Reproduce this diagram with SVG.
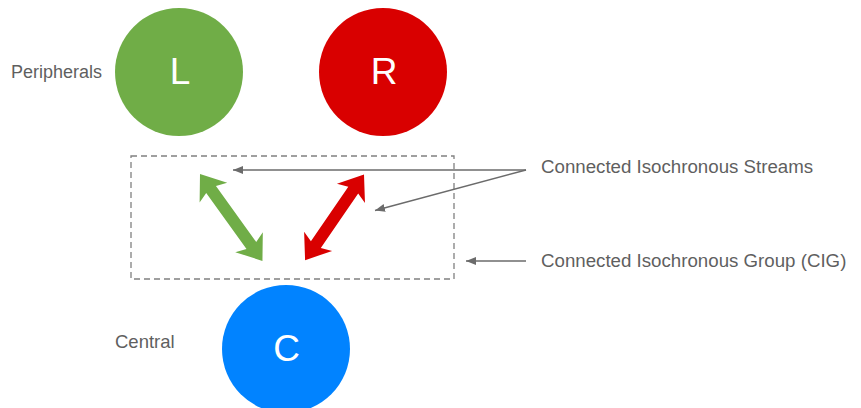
<svg xmlns="http://www.w3.org/2000/svg" width="861" height="408" viewBox="0 0 861 408">
<style>
.lbl{font-family:"Liberation Sans",Arial,sans-serif;fill:#5f5f5f;}
.big{font-family:"Liberation Sans",Arial,sans-serif;fill:#ffffff;font-size:37px;text-anchor:middle;}
.lead{stroke:#6b6b6b;stroke-width:1.5;fill:none;}
</style>
<defs>
<marker id="ah" markerUnits="userSpaceOnUse" markerWidth="11" markerHeight="9" refX="10" refY="4" orient="auto">
<path d="M0,0 L10,4 L0,8 Z" fill="#6b6b6b"/>
</marker>
</defs>
<rect x="131" y="156" width="323" height="123" fill="none" stroke="#808080" stroke-width="1.3" stroke-dasharray="6,4"/>
<g id="L"><circle cx="179" cy="72" r="64" fill="#70AD47"/><text class="big" x="180" y="84">L</text></g>
<g id="R"><circle cx="383" cy="72" r="64" fill="#D90000"/><text class="big" x="384" y="84">R</text></g>
<g id="C"><circle cx="286" cy="349" r="64" fill="#0183FF"/><text class="big" x="286.5" y="361">C</text></g>
<g id="labels">
<text class="lbl" x="11" y="78" font-size="18">Peripherals</text>
<text class="lbl" x="115" y="348" font-size="18.5">Central</text>
<text class="lbl" x="541" y="173" font-size="18.7">Connected Isochronous Streams</text>
<text class="lbl" x="541" y="267" font-size="18.7">Connected Isochronous Group (CIG)</text>
</g>
<g id="connectors">
<path fill="#70AD47" transform="translate(200,174) rotate(54.3)" d="M0,0 L23,-17 L19,-6 L88,-6 L84,-17 L107,0 L84,17 L88,6 L19,6 L23,17 Z"/>
<path fill="#D90000" transform="translate(364,174.5) rotate(124.5)" d="M0,0 L23,-17 L19,-6 L85,-6 L81,-17 L104,0 L81,17 L85,6 L19,6 L23,17 Z"/>
<line class="lead" x1="526" y1="170" x2="233" y2="170" marker-end="url(#ah)"/>
<line class="lead" x1="526" y1="170" x2="375" y2="210.5" marker-end="url(#ah)"/>
<line class="lead" x1="526" y1="261" x2="466" y2="261" marker-end="url(#ah)"/>
</g>
</svg>
